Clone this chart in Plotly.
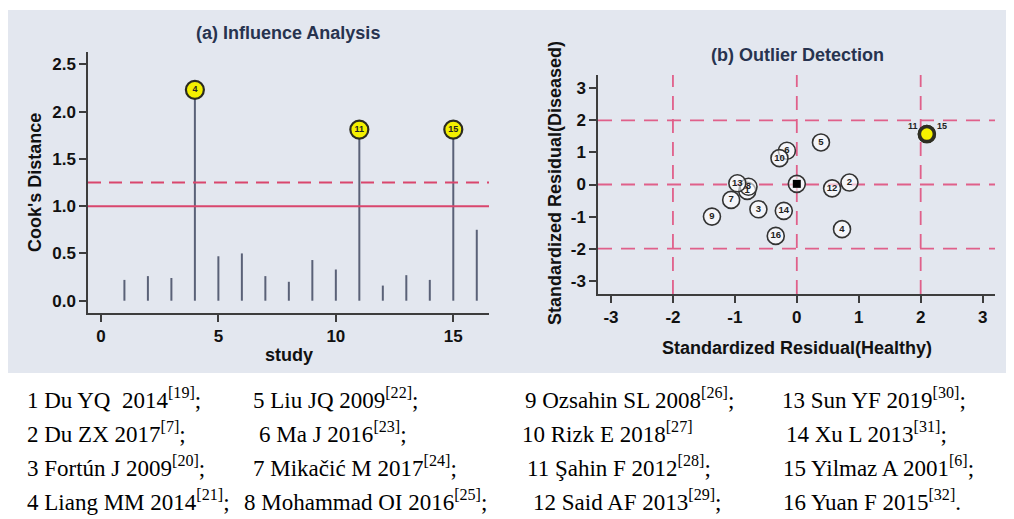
import plotly.graph_objects as go

# ---------------- data ----------------
studies = list(range(1, 17))
cooks_d = [0.22, 0.26, 0.24, 2.23, 0.47, 0.50, 0.26, 0.20, 0.43, 0.33, 1.81, 0.16, 0.27, 0.22, 1.81, 0.75]
influential = [4, 11, 15]
cooks_threshold_solid = 1.0
cooks_threshold_dash = 1.25

resid_healthy = [-0.80, 0.85, -0.62, 0.73, 0.39, -0.16, -1.06, -0.78, -1.37, -0.28, 2.10, 0.57, -0.96, -0.21, 2.10, -0.34]
resid_diseased = [-0.20, 0.06, -0.77, -1.39, 1.31, 1.05, -0.48, -0.07, -1.00, 0.82, 1.57, -0.12, 0.04, -0.82, 1.57, -1.60]
outliers = [11, 15]
summary_x = [0.0]
summary_y = [0.02]
ref_lines = [-2, 0, 2]

left_xticks = [0, 5, 10, 15]
left_yticks = [0.0, 0.5, 1.0, 1.5, 2.0, 2.5]
right_ticks = [-3, -2, -1, 0, 1, 2, 3]
right_ticklabels = ["-3", "-2", "-1", "0", "1", "2", "3"]

study_labels = [
    ["1 Du YQ&nbsp; 2014<sup>[19]</sup>;", "5 Liu JQ 2009<sup>[22]</sup>;", "9 Ozsahin SL 2008<sup>[26]</sup>;", "13 Sun YF 2019<sup>[30]</sup>;"],
    ["2 Du ZX 2017<sup>[7]</sup>;", "6 Ma J 2016<sup>[23]</sup>;", "10 Rizk E 2018<sup>[27]</sup>", "14 Xu L 2013<sup>[31]</sup>;"],
    ["3 Fortún J 2009<sup>[20]</sup>;", "7 Mikačić M 2017<sup>[24]</sup>;", "11 Şahin F 2012<sup>[28]</sup>;", "15 Yilmaz A 2001<sup>[6]</sup>;"],
    ["4 Liang MM 2014<sup>[21]</sup>;", "8 Mohammad OI 2016<sup>[25]</sup>;", "12 Said AF 2013<sup>[29]</sup>;", "16 Yuan F 2015<sup>[32]</sup>."],
]

# ---------------- layout helpers ----------------
# the page body has an 8px default margin, so the figure is drawn 8px in
OFF = 8
W, H = 1014 - OFF, 519 - OFF
def px(x):
    return (x - OFF) / W
def py(y):
    return 1 - (y - OFF) / H

SANS = "Liberation Sans, Arial, sans-serif"
SERIF = "Liberation Serif, Times New Roman, serif"
TITLE_COL = "#27334f"
AX_COL = "#3d3d3d"
RED = "#d9466d"
PINK = "#e0608a"
STEM = "#5a6177"

fig = go.Figure()

# ---- left panel: stems ----
stem_x, stem_y = [], []
for s, d in zip(studies, cooks_d):
    stem_x += [s, s, None]
    stem_y += [0, d, None]
fig.add_trace(go.Scatter(x=stem_x, y=stem_y, mode="lines",
                         line=dict(color=STEM, width=2), xaxis="x", yaxis="y",
                         hoverinfo="skip", showlegend=False))
inf_x = [s for s in studies if s in influential]
inf_y = [cooks_d[s - 1] for s in inf_x]
fig.add_trace(go.Scatter(x=inf_x, y=inf_y, mode="markers+text",
                         text=[str(s) for s in inf_x], textposition="middle center",
                         textfont=dict(family=SANS, size=9, color="#222", weight="bold"),
                         marker=dict(size=18, color="#f4f000", line=dict(color="#2b2b20", width=2.2)),
                         xaxis="x", yaxis="y", showlegend=False))

# ---- right panel points ----
normal = [s for s in studies if s not in outliers]
fig.add_trace(go.Scatter(x=[resid_healthy[s - 1] for s in normal],
                         y=[resid_diseased[s - 1] for s in normal],
                         mode="markers+text", text=[str(s) for s in normal],
                         textposition="middle center",
                         textfont=dict(family=SANS, size=9.5, color="#222", weight="bold"),
                         marker=dict(size=17, color="rgba(255,255,255,0.6)",
                                     line=dict(color="#333", width=1.6)),
                         xaxis="x2", yaxis="y2", showlegend=False))
fig.add_trace(go.Scatter(x=summary_x, y=summary_y, mode="markers",
                         marker=dict(size=17, color="rgba(255,255,255,0.6)",
                                     line=dict(color="#333", width=1.6)),
                         xaxis="x2", yaxis="y2", showlegend=False))
fig.add_trace(go.Scatter(x=summary_x, y=summary_y, mode="markers",
                         marker=dict(size=8, symbol="square", color="#000"),
                         xaxis="x2", yaxis="y2", showlegend=False))
ox = [resid_healthy[s - 1] for s in outliers]
oy = [resid_diseased[s - 1] for s in outliers]
fig.add_trace(go.Scatter(x=ox, y=oy, mode="markers",
                         marker=dict(size=15, color="#f6f200", line=dict(color="#2e2e22", width=3.5)),
                         xaxis="x2", yaxis="y2", showlegend=False))

shapes = [
    dict(type="rect", xref="paper", yref="paper", x0=px(7), x1=1, y0=py(373), y1=py(10),
         fillcolor="#e3e7ef", line=dict(width=0), layer="below"),
    dict(type="line", xref="x domain", yref="y", x0=0, x1=1, y0=cooks_threshold_solid, y1=cooks_threshold_solid,
         line=dict(color=RED, width=2)),
    dict(type="line", xref="x domain", yref="y", x0=0, x1=1, y0=cooks_threshold_dash, y1=cooks_threshold_dash,
         line=dict(color=RED, width=2, dash="13px,8px")),
]
for v in ref_lines:
    shapes.append(dict(type="line", xref="x2 domain", yref="y2", x0=0, x1=1, y0=v, y1=v,
                       line=dict(color=PINK, width=1.8, dash="14px,9px"), layer="below"))
    shapes.append(dict(type="line", xref="x2", yref="y2 domain", x0=v, x1=v, y0=0, y1=1,
                       line=dict(color=PINK, width=1.8, dash="14px,9px"), layer="below"))

tickfont = dict(family=SANS, size=17, color="#111", weight="bold")
axis_common = dict(showgrid=False, zeroline=False, showline=True, linecolor=AX_COL, linewidth=1.5,
                   ticks="outside", ticklen=7, tickwidth=1.5, tickcolor=AX_COL, tickfont=tickfont)

def ann(text, x, y, size=18, color="#111", angle=0):
    return dict(text=text, x=px(x), y=py(y), xref="paper", yref="paper", xanchor="center",
                yanchor="middle", textangle=angle, showarrow=False,
                font=dict(family=SANS, size=size, color=color, weight="bold"))

annotations = [
    ann("(a) Influence Analysis", 288, 33, color=TITLE_COL),
    ann("Cook's Distance", 35, 183, angle=-90),
    ann("study", 289, 355),
    ann("(b) Outlier Detection", 797, 55, color=TITLE_COL),
    ann("Standardized Residual(Diseased)", 555, 183, angle=-90),
    ann("Standardized Residual(Healthy)", 797, 348),
]
# outlier labels next to the yellow point
for s, x, y, dx in zip(outliers, ox, oy, [-14, 15]):
    annotations.append(dict(text=str(s), x=x, y=y, xref="x2", yref="y2", xshift=dx, yshift=8,
                            showarrow=False, xanchor="center", yanchor="middle",
                            font=dict(family=SANS, size=9, color="#222", weight="bold")))

col_x = [[25, 251, 523, 780], [25, 257, 520, 784], [25, 251, 525, 781], [25, 242, 531, 781]]
row_y = [398, 432, 466, 500]
for r, row in enumerate(study_labels):
    for c, txt in enumerate(row):
        annotations.append(dict(text=txt, x=px(col_x[r][c]), y=py(row_y[r]), xref="paper", yref="paper",
                                xanchor="left", yanchor="middle", showarrow=False,
                                font=dict(family=SERIF, size=23, color="#000")))

fig.update_layout(
    width=W, height=H, margin=dict(l=0, r=0, t=0, b=0),
    paper_bgcolor="white", plot_bgcolor="white", showlegend=False,
    xaxis=dict(domain=[px(88), px(489)], range=[-0.55, 16.52], tickvals=left_xticks, anchor="y", **axis_common),
    yaxis=dict(domain=[py(313), py(52)], range=[-0.13, 2.63], tickvals=left_yticks, tickformat=".1f",
               anchor="x", **axis_common),
    xaxis2=dict(domain=[px(598), px(995)], range=[-3.21, 3.2], tickvals=right_ticks,
                ticktext=right_ticklabels, anchor="y2", **axis_common),
    yaxis2=dict(domain=[py(294), py(75)], range=[-3.41, 3.41], tickvals=right_ticks,
                ticktext=right_ticklabels, anchor="x2", **axis_common),
    shapes=shapes, annotations=annotations,
)

fig.write_html("out.html")
